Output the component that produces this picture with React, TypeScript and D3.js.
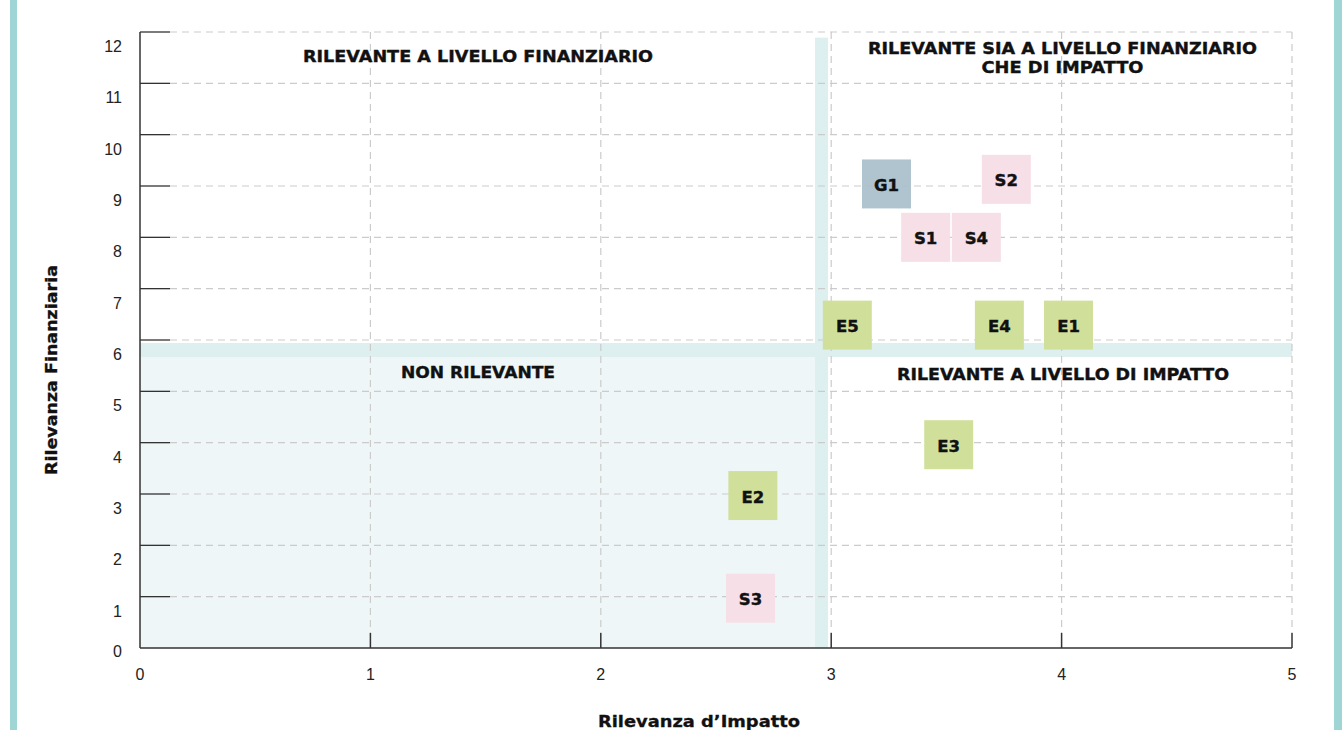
import React from 'react';
import * as d3 from 'd3';

// topics on the materiality matrix
const codes = ['G1', 'S2', 'S1', 'S4', 'E5', 'E4', 'E1', 'E3', 'E2', 'S3'];
const groups = ['G', 'S', 'S', 'S', 'E', 'E', 'E', 'E', 'E', 'S'];
const impatto = [3.24, 3.76, 3.41, 3.63, 3.07, 3.73, 4.03, 3.51, 2.66, 2.65];
const finanziaria = [9.04, 9.13, 8.0, 8.0, 6.29, 6.29, 6.29, 3.96, 2.97, 0.97];

const xTicks = [0, 1, 2, 3, 4, 5];
const yTicks = [0, 1, 2, 3, 4, 5, 6, 7, 8, 9, 10, 11, 12];

const impactThreshold = 2.958;
const financialThreshold = 5.806;

const groupColors: Record<string, string> = {
  E: '#d0e09b',
  S: '#f6dfe7',
  G: '#a9bfcc',
};

const W = 1342;
const H = 730;
const margin = { top: 32, right: 50, bottom: 82, left: 140 };

const App = () => {
  const x = d3.scaleLinear().domain([0, 5]).range([margin.left, W - margin.right]);
  const y = d3.scaleLinear().domain([0, 12]).range([H - margin.bottom, margin.top]);

  const x0 = x(0), x1 = x(5), y0 = y(0), y1 = y(12);
  const bandW = 13;
  const bandH = 14;
  const vx = x(impactThreshold);
  const hy = y(financialThreshold);
  const box = 49;
  const font = '"DejaVu Sans", Verdana, sans-serif';
  const tickFont = '"Liberation Sans", Arial, sans-serif';

  const data = codes.map((c, i) => ({ code: c, group: groups[i], x: impatto[i], y: finanziaria[i] }));

  const quadLabel = (tx: number, ty: number, len: number, txt: string) => (
    <text x={tx} y={ty} textAnchor="middle" fontFamily={font} fontWeight="bold" fontSize={16.5}
      fill="#111" stroke="#111" strokeWidth={0.4} textLength={len} lengthAdjust="spacingAndGlyphs">{txt}</text>
  );

  return (
    <svg width={W} height={H} style={{ position: 'absolute', top: 0, left: 0, display: 'block' }}>
      <rect x={0} y={0} width={W} height={H} fill="#fff" />

      {/* side bars */}
      <rect x={10} y={0} width={7} height={H} fill="#9fd5d5" />
      <rect x={1334} y={0} width={8} height={H} fill="#9fd5d5" />

      {/* non rilevante quadrant */}
      <rect x={x0} y={hy + bandH / 2} width={vx - bandW / 2 - x0} height={y0 - hy - bandH / 2} fill="#eef6f8" />

      {/* threshold bands */}
      <rect x={vx - bandW / 2} y={y(11.89)} width={bandW} height={y0 - y(11.89)} fill="#ddefef" />
      <rect x={x0} y={hy - bandH / 2} width={x1 - x0} height={bandH} fill="#ddefef" />

      {/* grid */}
      {yTicks.filter(t => t > 0).map(t => (
        <g key={'gy' + t}>
          <line x1={x0 + 30} x2={x1} y1={y(t)} y2={y(t)} stroke="#cbcbcb" strokeWidth={1.2} strokeDasharray="7,5" />
          <line x1={x0} x2={x0 + 30} y1={y(t)} y2={y(t)} stroke="#333" strokeWidth={1.3} />
        </g>
      ))}
      {xTicks.filter(t => t > 0).map(t => (
        <g key={'gx' + t}>
          <line x1={x(t)} x2={x(t)} y1={y1} y2={y0 - 15} stroke="#cbcbcb" strokeWidth={1.2} strokeDasharray="7,5" />
          <line x1={x(t)} x2={x(t)} y1={y0 - 15} y2={y0} stroke="#333" strokeWidth={1.5} />
        </g>
      ))}

      {/* axes */}
      <line x1={x0} x2={x0} y1={y1} y2={y0} stroke="#333" strokeWidth={1.5} />
      <line x1={x0} x2={x1} y1={y0} y2={y0} stroke="#333" strokeWidth={1.5} />

      {/* tick labels */}
      {xTicks.map(t => (
        <text key={'xt' + t} x={x(t)} y={y0 + 32} textAnchor="middle" fontFamily={tickFont} fontSize={16} fill="#222">{t}</text>
      ))}
      {yTicks.map(t => (
        <text key={'yt' + t} x={122} y={t === 0 ? y0 + 9 : y(t) + 20} textAnchor="end" fontFamily={tickFont} fontSize={16} fill="#222">{t}</text>
      ))}

      {/* quadrant labels */}
      {quadLabel(478, 62, 350, 'RILEVANTE A LIVELLO FINANZIARIO')}
      {quadLabel(1062.5, 54, 389, 'RILEVANTE SIA A LIVELLO FINANZIARIO')}
      {quadLabel(1062.5, 73, 162, 'CHE DI IMPATTO')}
      {quadLabel(478, 378, 154, 'NON RILEVANTE')}
      {quadLabel(1063, 380, 332, 'RILEVANTE A LIVELLO DI IMPATTO')}

      {/* topics */}
      {data.map(d => (
        <g key={d.code} transform={`translate(${x(d.x)},${y(d.y)})`}>
          <rect x={-box / 2} y={-box / 2} width={box} height={box} fill={groupColors[d.group]} fillOpacity={d.group === 'G' ? 0.92 : 1} />
          <text x={0} y={7} textAnchor="middle" fontFamily={font} fontWeight="bold" fontSize={16.5} fill="#111" stroke="#111" strokeWidth={0.4}>{d.code}</text>
        </g>
      ))}

      {/* axis titles */}
      <text x={699} y={727} textAnchor="middle" fontFamily={font} fontWeight="bold" fontSize={15.5} fill="#111" stroke="#111" strokeWidth={0.3} textLength={202} lengthAdjust="spacingAndGlyphs">Rilevanza d’Impatto</text>
      <text transform={`translate(57,370) rotate(-90)`} textAnchor="middle" fontFamily={font} fontWeight="bold" fontSize={15.5} fill="#111" stroke="#111" strokeWidth={0.3} textLength={210} lengthAdjust="spacingAndGlyphs">Rilevanza Finanziaria</text>
    </svg>
  );
};

export default App;
